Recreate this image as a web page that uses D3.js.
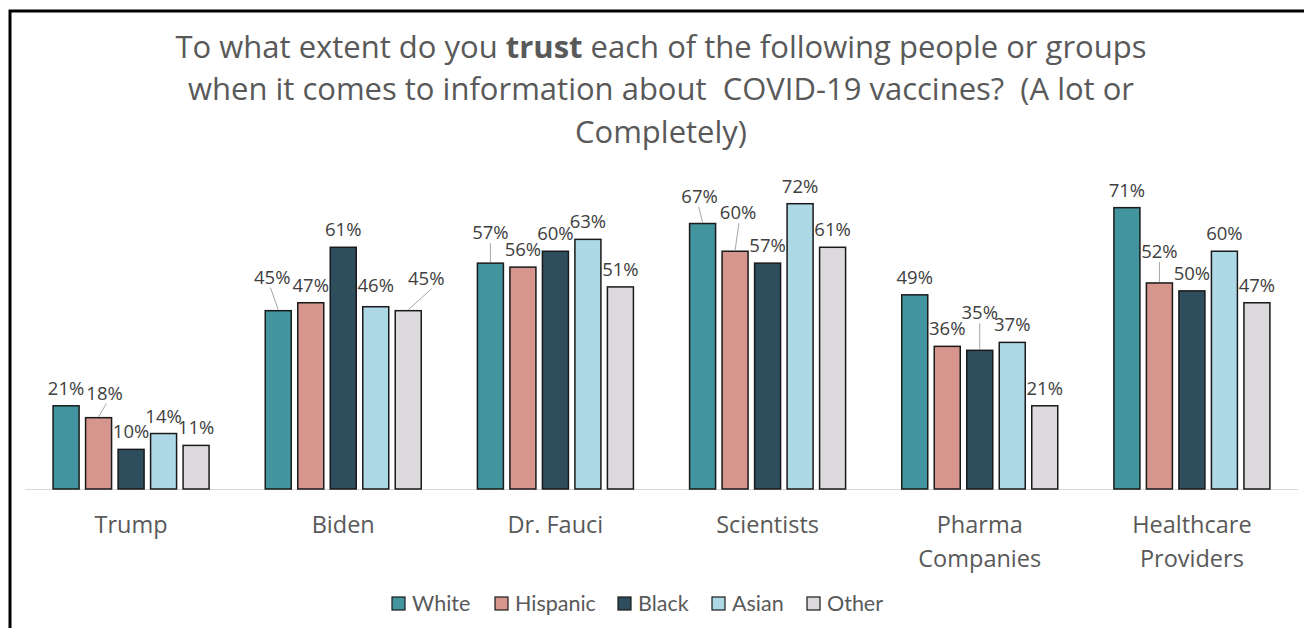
<!DOCTYPE html>
<html><head><meta charset="utf-8">
<script src="https://cdn.jsdelivr.net/npm/d3@7"></script>
<style>body{margin:0;background:#fff}svg{display:block}text{white-space:pre}</style>
</head><body>
<script>
const categories = [["Trump"],["Biden"],["Dr. Fauci"],["Scientists"],["Pharma","Companies"],["Healthcare","Providers"]];
const seriesNames = ["White","Hispanic","Black","Asian","Other"];
const white    = [21,45,57,67,49,71];
const hispanic = [18,47,56,60,36,52];
const black    = [10,61,60,57,35,50];
const asian    = [14,46,63,72,37,60];
const other    = [11,45,51,61,21,47];
const seriesValues = [white,hispanic,black,asian,other];
const colors = ["#42959e","#d6968d","#2e4e5e","#add8e6","#dddadd"];

// label nudges (layout only): key "series-category" -> [dx, dy]
const labelNudges = {"1-0":[6,-7],"0-1":[-6,-16],"3-1":[0,-4],"4-1":[18,-15],"0-2":[0,-13],
  "0-3":[-3,-10],"1-3":[3,-21],"2-4":[0,-20],"1-5":[0,-14]};

const W=1304,H=628;
const svg=d3.select("body").append("svg").attr("width",W).attr("height",H);
const fontA="'Open Sans', sans-serif";
const fontB="Lato, sans-serif";

// frame
svg.append("path").attr("d",`M10,${H} L10,11 L${W},11`).attr("fill","none").attr("stroke","#000").attr("stroke-width",3);

// title
const title=svg.append("text").attr("text-anchor","middle").attr("font-family",fontA).attr("font-size",31).attr("fill","#595959");
const l1=title.append("tspan").attr("x",661).attr("y",58);
l1.append("tspan").text("To what extent do you ");
l1.append("tspan").attr("font-weight","bold").text("trust");
l1.append("tspan").text(" each of the following people or groups");
title.append("tspan").attr("x",661).attr("y",100).text("when it comes to information about  COVID-19 vaccines?  (A lot or");
title.append("tspan").attr("x",661).attr("y",143).text("Completely)");

const x0=d3.scaleBand().domain(d3.range(categories.length)).range([25,1298]).paddingInner(0).paddingOuter(0);
const x1=d3.scaleBand().domain(d3.range(seriesNames.length)).range([0,x0.bandwidth()]).paddingInner(0.2).paddingOuter(0.864);
const y=d3.scaleLinear().domain([0,80]).range([489,172]);

// baseline
svg.append("line").attr("x1",25).attr("x2",1298).attr("y1",489.5).attr("y2",489.5).attr("stroke","#d9d9d9").attr("stroke-width",1);

const rows=[];
seriesValues.forEach((arr,s)=>arr.forEach((v,c)=>{
  const n=labelNudges[s+"-"+c]||[0,0];
  const cx=x0(c)+x1(s)+x1.bandwidth()/2;
  rows.push({s,c,v,cx,lx:cx+n[0],ly:y(v)-11+n[1],lead:Math.abs(n[1])>=7});
}));

svg.append("g").selectAll("rect").data(rows).join("rect")
  .attr("x",d=>x0(d.c)+x1(d.s)).attr("width",x1.bandwidth())
  .attr("y",d=>y(d.v)).attr("height",d=>y(0)-y(d.v))
  .attr("fill",d=>colors[d.s]).attr("stroke","#1a1a1a").attr("stroke-width",1.5);

// leader lines
svg.append("g").selectAll("line").data(rows.filter(d=>d.lead)).join("line")
  .attr("x1",d=>d.cx).attr("y1",d=>y(d.v)-1)
  .attr("x2",d=>d.lx+(d.lx-d.cx)*0.3).attr("y2",d=>d.ly+4)
  .attr("stroke","#a6a6a6").attr("stroke-width",1);

svg.append("g").selectAll("text").data(rows).join("text")
  .attr("x",d=>d.lx).attr("y",d=>d.ly)
  .attr("text-anchor","middle").attr("font-family",fontA).attr("font-size",18.5).attr("fill","#404040")
  .text(d=>d.v+"%");

// category labels
const cl=svg.append("g").selectAll("text").data(categories).join("text")
  .attr("text-anchor","middle").attr("font-family",fontA).attr("font-size",23.5).attr("fill","#595959");
cl.each(function(lines,i){
  d3.select(this).selectAll("tspan").data(lines).join("tspan")
    .attr("x",x0(i)+x0.bandwidth()/2).attr("y",(d,j)=>533+j*34).text(d=>d);
});

// legend
const legX=[392,495,618,712,807];
const lg=svg.append("g").selectAll("g").data(seriesNames).join("g")
  .attr("transform",(d,i)=>`translate(${legX[i]},597)`);
lg.append("rect").attr("width",13).attr("height",13).attr("fill",(d,i)=>colors[i]).attr("stroke","#1a1a1a").attr("stroke-width",1.2);
lg.append("text").attr("x",20).attr("y",14).attr("font-family",fontB).attr("font-size",21.5).attr("fill","#595959").text(d=>d);
</script>
</body></html>
